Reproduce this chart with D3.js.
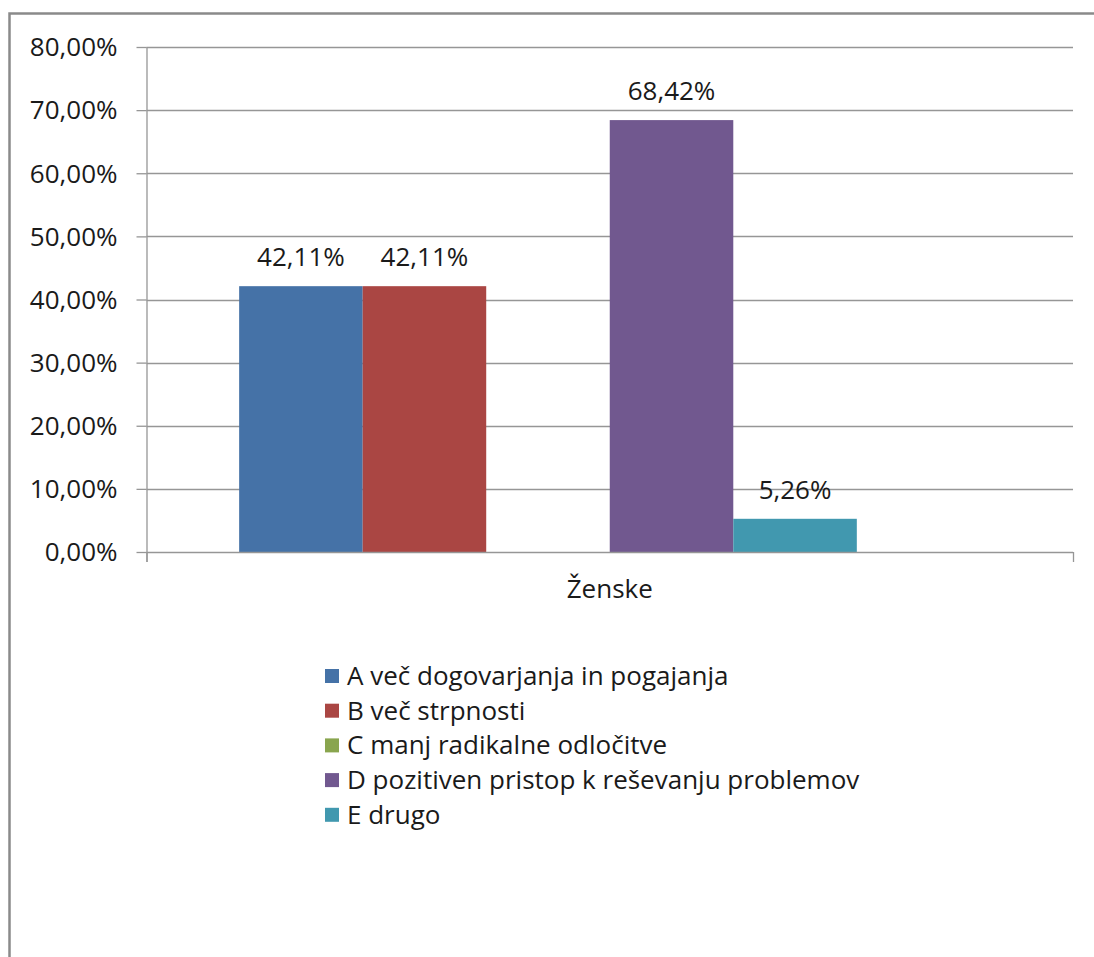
<!DOCTYPE html>
<html>
<head>
<meta charset="utf-8">
<script src="https://cdn.jsdelivr.net/npm/d3@7"></script>
<style>
  html, body { margin: 0; padding: 0; background: #fff; }
  svg { display: block; }
  text { font-family: "Open Sans", Lato, sans-serif; fill: #1a1a1a; }
</style>
</head>
<body>
<svg id="chart" width="1094" height="957"></svg>
<script>
// Survey answers, share of respondents per option
const categories = ["Ženske"];
const seriesNames = [
  "A več dogovarjanja in pogajanja",
  "B več strpnosti",
  "C manj radikalne odločitve",
  "D pozitiven pristop k reševanju problemov",
  "E drugo"
];
const seriesValues = [0.4211, 0.4211, 0, 0.6842, 0.0526];
const seriesColors = ["#4572A7", "#AA4643", "#89A54E", "#71588F", "#4198AF"];
const yTicks = [0, 0.1, 0.2, 0.3, 0.4, 0.5, 0.6, 0.7, 0.8];
// The workbook reserves one more (empty) series slot after E
const slotCount = 6;

const FONT = 26;
const svg = d3.select("#chart");
const plot = { left: 146.5, right: 1073, top: 47, bottom: 552 };

const fmtPct = v => (v * 100).toFixed(2).replace(".", ",") + "%";

// Outer frame
svg.append("rect")
  .attr("x", 9.5).attr("y", 13.5)
  .attr("width", 1200).attr("height", 1200)
  .attr("fill", "none").attr("stroke", "#8a8a8a").attr("stroke-width", 2.5);

const y = d3.scaleLinear().domain([0, 0.8]).range([plot.bottom, plot.top]);
const x0 = d3.scaleBand().domain(categories).range([plot.left, plot.right]).padding(0);
const x1 = d3.scaleBand().domain(d3.range(slotCount)).range([0, x0.bandwidth()])
  .paddingInner(0).paddingOuter(0.75);

// Horizontal gridlines
svg.append("g")
  .selectAll("line")
  .data(yTicks.filter(t => t > 0))
  .join("line")
  .attr("x1", plot.left).attr("x2", plot.right)
  .attr("y1", d => Math.round(y(d)) + 0.5).attr("y2", d => Math.round(y(d)) + 0.5)
  .attr("stroke", "#969696").attr("stroke-width", 1.3);

// Bars
const bars = svg.append("g");
const barData = seriesNames.map((s, i) => ({ s, i, v: seriesValues[i], c: seriesColors[i] }));
categories.forEach(cat => {
  bars.selectAll(null)
    .data(barData)
    .join("rect")
    .attr("x", d => x0(cat) + x1(d.i))
    .attr("y", d => y(d.v))
    .attr("width", x1.bandwidth())
    .attr("height", d => plot.bottom - y(d.v))
    .attr("fill", d => d.c);

  // Value labels (zero values get none)
  bars.selectAll(null)
    .data(barData.filter(d => d.v > 0))
    .join("text")
    .attr("x", d => x0(cat) + x1(d.i) + x1.bandwidth() / 2)
    .attr("y", d => y(d.v) - 20)
    .attr("text-anchor", "middle")
    .attr("font-size", FONT)
    .text(d => fmtPct(d.v));
});

// Y axis
const yAxis = svg.append("g")
  .attr("transform", `translate(${plot.left},0)`)
  .call(d3.axisLeft(y).tickValues(yTicks).tickSize(10).tickPadding(19).tickFormat(fmtPct));
yAxis.select(".domain").attr("stroke", "#969696").attr("stroke-width", 1.3)
  .attr("d", `M0.5,${plot.top}V${plot.bottom + 10}`);
yAxis.selectAll(".tick line").attr("stroke", "#969696").attr("stroke-width", 1.3);
yAxis.selectAll(".tick text")
  .attr("font-size", FONT).attr("font-family", '"Open Sans", Lato, sans-serif')
  .attr("fill", "#1a1a1a").attr("dy", "0.34em");

// X axis
const xAxis = svg.append("g")
  .attr("transform", `translate(0,${plot.bottom})`)
  .call(d3.axisBottom(x0).tickSize(0).tickPadding(28));
xAxis.select(".domain").attr("stroke", "#969696").attr("stroke-width", 1.3)
  .attr("d", `M${plot.left},0.5H${plot.right}`);
xAxis.selectAll(".tick text")
  .attr("font-size", FONT).attr("font-family", '"Open Sans", Lato, sans-serif')
  .attr("fill", "#1a1a1a");
// Category boundary ticks
xAxis.selectAll(".edge")
  .data([plot.left, plot.right])
  .join("line")
  .attr("x1", d => d + 0.5).attr("x2", d => d + 0.5)
  .attr("y1", 0).attr("y2", 10)
  .attr("stroke", "#969696").attr("stroke-width", 1.3);

// Legend
const legend = svg.append("g").attr("transform", "translate(325,676)");
const rows = legend.selectAll("g")
  .data(barData)
  .join("g")
  .attr("transform", (d, i) => `translate(0,${i * 34.7})`);
rows.append("rect")
  .attr("x", 0).attr("y", -7).attr("width", 14).attr("height", 14)
  .attr("fill", d => d.c);
rows.append("text")
  .attr("x", 22).attr("y", 0).attr("dy", "0.34em")
  .attr("font-size", FONT)
  .text(d => d.s);
</script>
</body>
</html>
